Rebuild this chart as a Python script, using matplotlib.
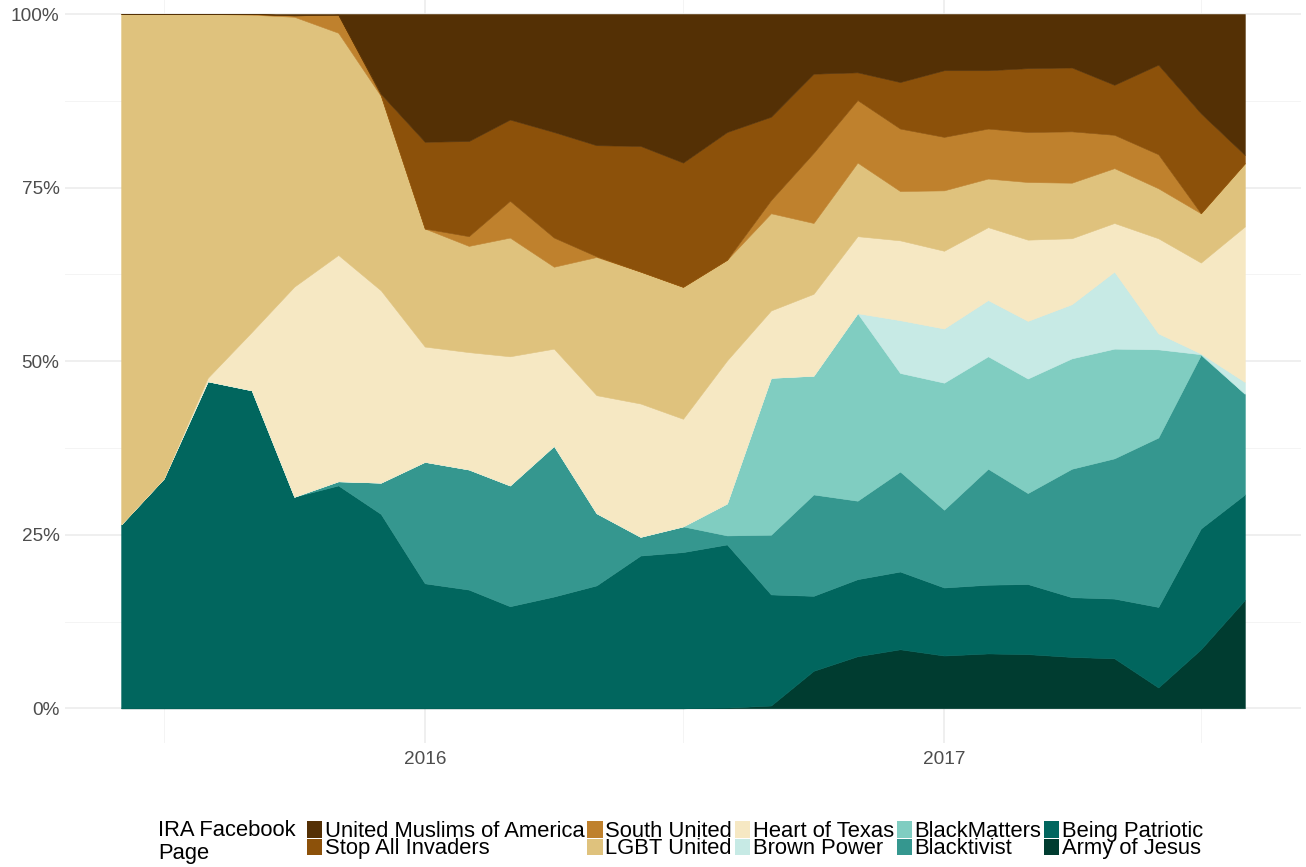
import matplotlib
matplotlib.use("Agg")
import matplotlib.pyplot as plt
import matplotlib.dates as mdates
from matplotlib.patches import Patch
import numpy as np
import pandas as pd

plt.rcParams['font.family'] = ['Liberation Sans', 'DejaVu Sans']

months = pd.date_range("2015-06-01", "2017-08-01", freq="MS")

pages = ["Army of Jesus", "Being Patriotic", "Blacktivist", "BlackMatters", "Brown Power",
         "Heart of Texas", "LGBT United", "South United", "Stop All Invaders",
         "United Muslims of America"]

army_of_jesus = [0, 0, 0, 0, 0, 0, 0, 0, 0, 0, 0, 0, 0, 0, 0.1, 0.4, 5.4, 7.5, 8.5, 7.6, 7.9, 7.8, 7.4, 7.2, 3.0, 8.5, 15.6]
being_patriotic = [26.5, 33.1, 47.1, 45.8, 30.5, 32.1, 28.0, 18.0, 17.1, 14.7, 16.1, 17.7, 22.0, 22.5, 23.5, 16.0, 10.8, 11.1, 11.2, 9.8, 9.9, 10.1, 8.6, 8.6, 11.6, 17.4, 15.2]
blacktivist = [0, 0, 0, 0, 0, 0.6, 4.5, 17.5, 17.3, 17.4, 21.7, 10.4, 2.7, 3.7, 1.3, 8.6, 14.6, 11.3, 14.4, 11.2, 16.7, 13.1, 18.5, 20.2, 24.4, 25.0, 14.5]
blackmatters = [0, 0, 0, 0, 0, 0, 0, 0, 0, 0, 0, 0, 0, 0, 4.6, 22.6, 17.1, 27.0, 14.2, 18.3, 16.2, 16.5, 15.9, 15.8, 12.7, 0.1, 0]
brown_power = [0, 0, 0, 0, 0, 0, 0, 0, 0, 0, 0, 0, 0, 0, 0, 0, 0, 0, 7.6, 7.8, 8.1, 8.3, 7.8, 11.1, 2.3, 0.1, 1.7]
heart_of_texas = [0, 0, 0.5, 8.4, 30.3, 32.6, 27.7, 16.6, 16.9, 18.6, 14.0, 17.0, 19.2, 15.5, 20.6, 9.7, 11.8, 11.1, 11.5, 11.2, 10.5, 11.7, 9.5, 7.0, 13.7, 13.1, 22.4]
lgbt_united = [73.5, 66.9, 52.4, 45.7, 38.9, 32.0, 28.0, 17.0, 15.3, 17.1, 11.8, 19.9, 19.0, 19.0, 14.5, 14.0, 10.2, 10.6, 7.1, 8.7, 7.0, 8.3, 8.0, 7.9, 7.2, 7.1, 9.1]
south_united = [0, 0, 0, 0.1, 0.2, 2.6, 0.1, 0, 1.4, 5.3, 4.2, 0.1, 0, 0, 0, 1.9, 10.1, 9.0, 9.0, 7.7, 7.2, 7.2, 7.4, 4.8, 4.9, 0, 0]
stop_all_invaders = [0, 0, 0, 0, 0, 0, 0.2, 12.5, 13.7, 11.7, 15.2, 16.0, 18.1, 17.9, 18.4, 12.0, 11.4, 4.0, 6.7, 9.6, 8.4, 9.2, 9.2, 7.2, 12.9, 14.4, 1.2]
united_muslims = [0, 0, 0, 0, 0.2, 0.1, 11.5, 18.4, 18.3, 15.2, 17.0, 18.9, 19.0, 21.4, 17.0, 14.8, 8.6, 8.4, 9.8, 8.1, 8.1, 7.8, 7.7, 10.2, 7.3, 14.3, 20.3]

colors = ["#003c30", "#01665e", "#35978f", "#80cdc1", "#c7eae5",
          "#f6e8c3", "#dfc27d", "#bf812d", "#8c510a", "#543005"]

series = np.array([army_of_jesus, being_patriotic, blacktivist, blackmatters, brown_power,
                   heart_of_texas, lgbt_united, south_united, stop_all_invaders, united_muslims],
                  dtype=float)
shares = series / series.sum(axis=0)

W, H = 1306, 867
fig = plt.figure(figsize=(W / 100, H / 100), dpi=100)
ax_left, ax_right, ax_bottom, ax_top = 65, 1301, 743, 0
ax = fig.add_axes([ax_left / W, 1 - ax_bottom / H, (ax_right - ax_left) / W, (ax_bottom - ax_top) / H])

polys = ax.stackplot(months, *shares, colors=colors, linewidth=0)
for p, c in zip(polys, colors):
    p.set_edgecolor(c)
    p.set_linewidth(0.4)

x0 = mdates.date2num(months[0])
x1 = mdates.date2num(months[-1])
pad = (x1 - x0) * 0.05
ax.set_xlim(x0 - pad, x1 + pad)
ax.set_ylim(-0.05, 1.0 + 14 / 694)

ax.set_yticks([0, 0.25, 0.5, 0.75, 1.0])
ax.set_yticklabels(["0%", "25%", "50%", "75%", "100%"])
ax.set_yticks([0.125, 0.375, 0.625, 0.875], minor=True)
ax.set_xticks([mdates.date2num(pd.Timestamp("2016-01-01")), mdates.date2num(pd.Timestamp("2017-01-01"))])
ax.set_xticklabels(["2016", "2017"])
ax.set_xticks([mdates.date2num(pd.Timestamp(d)) for d in ["2015-07-01", "2016-07-01", "2017-07-01"]], minor=True)

ax.set_axisbelow(True)
ax.grid(which="major", color="#ebebeb", linewidth=1.1)
ax.grid(which="minor", color="#f2f2f2", linewidth=0.6)
for s in ax.spines.values():
    s.set_visible(False)
ax.tick_params(which="both", length=0)
ax.tick_params(axis="y", labelsize=13.7, labelcolor="#4d4d4d", pad=4)
ax.tick_params(axis="x", labelsize=13.7, labelcolor="#4d4d4d", pad=6)

# legend
order = list(range(9, -1, -1))
handles = [Patch(facecolor=colors[i], edgecolor="none") for i in order]
labels = [pages[i] for i in order]
fig.legend(handles, labels, ncol=5, loc="upper left",
           bbox_to_anchor=(307 / W, 1 - 821 / H), frameon=False,
           fontsize=15.8, handlelength=0.7, handleheight=0.78,
           handletextpad=0.12, columnspacing=0.12, labelspacing=-0.16,
           borderpad=0, borderaxespad=0)
fig.text(158 / W, 1 - 820 / H, "IRA Facebook\nPage", fontsize=15.8, va="top", ha="left",
         linespacing=1.1, color="black")

fig.savefig("out.png", dpi=100, facecolor="white")
